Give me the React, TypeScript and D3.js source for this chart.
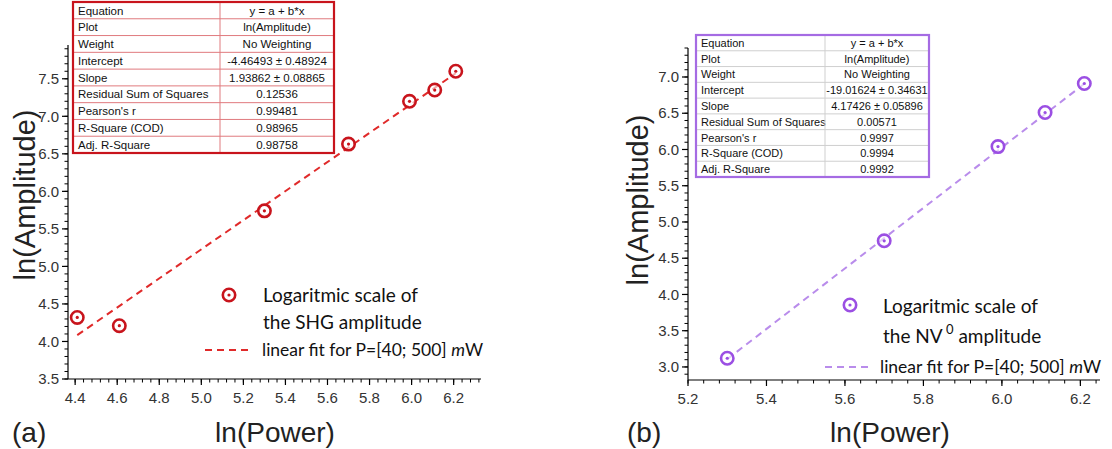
import React from "react";
import * as d3 from "d3";

// ---------- data ----------
const leftX = [4.41, 4.61, 5.3, 5.7, 5.99, 6.11, 6.21];
const leftY = [4.32, 4.21, 5.74, 6.63, 7.2, 7.35, 7.6];
const rightX = [5.3, 5.7, 5.99, 6.11, 6.21];
const rightY = [3.12, 4.74, 6.04, 6.51, 6.91];

const leftFitA = -4.46493;
const leftFitB = 1.93862;
const rightFitA = -19.01624;
const rightFitB = 4.17426;

const leftXTicks = [4.4, 4.6, 4.8, 5.0, 5.2, 5.4, 5.6, 5.8, 6.0, 6.2];
const leftYTicks = [3.5, 4.0, 4.5, 5.0, 5.5, 6.0, 6.5, 7.0, 7.5];
const rightXTicks = [5.2, 5.4, 5.6, 5.8, 6.0, 6.2];
const rightYTicks = [3.0, 3.5, 4.0, 4.5, 5.0, 5.5, 6.0, 6.5, 7.0];

const tableLabels = [
  "Equation",
  "Plot",
  "Weight",
  "Intercept",
  "Slope",
  "Residual Sum of Squares",
  "Pearson's r",
  "R-Square (COD)",
  "Adj. R-Square",
];
const leftTableValues = [
  "y = a + b*x",
  "ln(Amplitude)",
  "No Weighting",
  "-4.46493 ± 0.48924",
  "1.93862 ± 0.08865",
  "0.12536",
  "0.99481",
  "0.98965",
  "0.98758",
];
const rightTableValues = [
  "y = a + b*x",
  "ln(Amplitude)",
  "No Weighting",
  "-19.01624 ± 0.34631",
  "4.17426 ± 0.05896",
  "0.00571",
  "0.9997",
  "0.9994",
  "0.9992",
];

// ---------- styling ----------
const RED = "#c8141c";
const RED_LINE = "#e02a2a";
const PURPLE = "#9b4fe3";
const PURPLE_LINE = "#b98ceb";
const TICK_FONT = "'Liberation Sans', Arial, sans-serif";
const LEGEND_FONT = "Lato, 'Open Sans', sans-serif";

function minorTicks(lo: number, hi: number, step: number) {
  const n0 = Math.ceil(lo / step - 1e-9);
  const n1 = Math.floor(hi / step + 1e-9);
  return d3.range(n0, n1 + 1).map((k) => +(k * step).toFixed(4));
}

function Marker({ cx, cy, color }: { cx: number; cy: number; color: string }) {
  return (
    <g>
      <circle cx={cx} cy={cy} r={6.2} fill="white" fillOpacity={0.6} stroke={color} strokeWidth={2.6} />
      <circle cx={cx} cy={cy} r={1.6} fill={color} />
    </g>
  );
}

type PanelProps = {
  xDomain: [number, number];
  yDomain: [number, number];
  xRange: [number, number];
  yRange: [number, number];
  xTicks: number[];
  yTicks: number[];
  xs: number[];
  ys: number[];
  fitA: number;
  fitB: number;
  color: string;
  lineColor: string;
};

function Panel(p: PanelProps) {
  const x = d3.scaleLinear().domain(p.xDomain).range(p.xRange);
  const y = d3.scaleLinear().domain(p.yDomain).range(p.yRange);
  const x0 = p.xRange[0];
  const y0 = p.yRange[0];
  const xMin = minorTicks(p.xDomain[0], p.xDomain[1], 0.04);
  const yMin = minorTicks(p.yDomain[0], p.yDomain[1], 0.1);
  const fx = d3.extent(p.xs) as [number, number];
  const line = d3
    .line<number>()
    .x((v) => x(v))
    .y((v) => y(p.fitA + p.fitB * v));
  return (
    <g>
      <path d={line(fx) || ""} stroke={p.lineColor} strokeWidth={2} strokeDasharray="7,5" fill="none" />
      <line x1={x0} x2={x0} y1={p.yRange[0]} y2={p.yRange[1]} stroke="#000" strokeWidth={1.2} />
      <line x1={p.xRange[0]} x2={p.xRange[1]} y1={y0} y2={y0} stroke="#000" strokeWidth={1.2} />
      {yMin.map((t) => (
        <line key={"ym" + t} x1={x0 - 3.5} x2={x0} y1={y(t)} y2={y(t)} stroke="#000" strokeWidth={1} />
      ))}
      {p.yTicks.map((t) => (
        <g key={"y" + t}>
          <line x1={x0 - 6} x2={x0} y1={y(t)} y2={y(t)} stroke="#000" strokeWidth={1.2} />
          <text x={x0 - 9} y={y(t)} dy="0.35em" textAnchor="end" fontSize={15} fontFamily={TICK_FONT} fill="#333">
            {t.toFixed(1)}
          </text>
        </g>
      ))}
      {xMin.map((t) => (
        <line key={"xm" + t} x1={x(t)} x2={x(t)} y1={y0} y2={y0 + 3.5} stroke="#000" strokeWidth={1} />
      ))}
      {p.xTicks.map((t) => (
        <g key={"x" + t}>
          <line x1={x(t)} x2={x(t)} y1={y0} y2={y0 + 6} stroke="#000" strokeWidth={1.2} />
          <text x={x(t)} y={y0 + 24} textAnchor="middle" fontSize={15} fontFamily={TICK_FONT} fill="#333">
            {t.toFixed(1)}
          </text>
        </g>
      ))}
      {p.xs.map((v, i) => (
        <Marker key={"p" + i} cx={x(v)} cy={y(p.ys[i])} color={p.color} />
      ))}
    </g>
  );
}

function Table({
  x0,
  x1,
  xDiv,
  y0,
  y1,
  values,
  border,
  inner,
  fontSize,
}: {
  x0: number;
  x1: number;
  xDiv: number;
  y0: number;
  y1: number;
  values: string[];
  border: string;
  inner: string;
  fontSize: number;
}) {
  const rows = d3.scaleBand<number>().domain(d3.range(tableLabels.length)).range([y0, y1]);
  const h = rows.bandwidth();
  return (
    <g>
      <rect x={x0} y={y0} width={x1 - x0} height={y1 - y0} fill="white" />
      {tableLabels.map((lab, i) => (
        <g key={lab}>
          {i > 0 && <line x1={x0} x2={x1} y1={rows(i)} y2={rows(i)} stroke={inner} strokeWidth={1} />}
          <text x={x0 + 5} y={(rows(i) as number) + h / 2} dy="0.36em" fontSize={fontSize} fontFamily={TICK_FONT} fill="#111">
            {lab}
          </text>
          <text
            x={(xDiv + x1) / 2}
            y={(rows(i) as number) + h / 2}
            dy="0.36em"
            textAnchor="middle"
            fontSize={fontSize}
            fontFamily={TICK_FONT}
            fill="#111"
          >
            {values[i]}
          </text>
        </g>
      ))}
      <line x1={xDiv} x2={xDiv} y1={y0} y2={y1} stroke={inner} strokeWidth={1} />
      <rect x={x0} y={y0} width={x1 - x0} height={y1 - y0} fill="none" stroke={border} strokeWidth={2.2} />
    </g>
  );
}

export default function App() {
  return (
    <svg
      width={1112}
      height={449}
      style={{ position: "absolute", left: 0, top: 0, background: "white" }}
      xmlns="http://www.w3.org/2000/svg"
    >
      <rect width={1112} height={449} fill="white" />
      {/* ---- panel (a) ---- */}
      <Panel
        xDomain={[4.366, 6.33]}
        yDomain={[3.5, 7.95]}
        xRange={[68, 481]}
        yRange={[379, 45]}
        xTicks={leftXTicks}
        yTicks={leftYTicks}
        xs={leftX}
        ys={leftY}
        fitA={leftFitA}
        fitB={leftFitB}
        color={RED}
        lineColor={RED_LINE}
      />
      <Table x0={73} x1={334} xDiv={220} y0={2} y1={153} values={leftTableValues} border={RED} inner="#e07a7e" fontSize={11.5} />
      <g fontFamily={LEGEND_FONT} fontSize={19} fill="#111">
        <Marker cx={229} cy={295} color={RED} />
        <text x={263} y={302}>Logaritmic scale of</text>
        <text x={263} y={329}>the SHG amplitude</text>
        <line x1={205} x2={253} y1={350} y2={350} stroke={RED_LINE} strokeWidth={2} strokeDasharray="7,5" />
        <text x={262} y={356} fontSize={17.5}>
          linear fit for P=[40; 500] <tspan fontStyle="italic">m</tspan>W
        </text>
      </g>
      <text x={25} y={195} transform="rotate(-90 25 195)" textAnchor="middle" dy="0.35em" fontSize={29} fontFamily={TICK_FONT} fill="#222">
        ln(Amplitude)
      </text>
      <text x={275} y={442} textAnchor="middle" fontSize={28} fontFamily={TICK_FONT} fill="#222">
        ln(Power)
      </text>
      <text x={12} y={442} fontSize={28} fontFamily={TICK_FONT} fill="#222">
        (a)
      </text>

      {/* ---- panel (b) ---- */}
      <Panel
        xDomain={[5.2, 6.25]}
        yDomain={[2.82, 7.4]}
        xRange={[688, 1100]}
        yRange={[380, 48]}
        xTicks={rightXTicks}
        yTicks={rightYTicks}
        xs={rightX}
        ys={rightY}
        fitA={rightFitA}
        fitB={rightFitB}
        color={PURPLE}
        lineColor={PURPLE_LINE}
      />
      <Table x0={696} x1={929} xDiv={825} y0={35} y1={177} values={rightTableValues} border="#a56be3" inner="#cfcfcf" fontSize={11} />
      <g fontFamily={LEGEND_FONT} fontSize={19} fill="#111">
        <Marker cx={850} cy={305} color={PURPLE} />
        <text x={883} y={313}>Logaritmic scale of</text>
        <text x={883} y={343}>
          the NV<tspan dy={-9} fontSize={13}> 0</tspan>
          <tspan dy={9}> amplitude</tspan>
        </text>
        <line x1={825} x2={873} y1={367} y2={367} stroke={PURPLE_LINE} strokeWidth={2} strokeDasharray="7,5" />
        <text x={880} y={373} fontSize={17.5}>
          linear fit for P=[40; 500] <tspan fontStyle="italic">m</tspan>W
        </text>
      </g>
      <text x={638} y={200} transform="rotate(-90 638 200)" textAnchor="middle" dy="0.35em" fontSize={29} fontFamily={TICK_FONT} fill="#222">
        ln(Amplitude)
      </text>
      <text x={890} y={442} textAnchor="middle" fontSize={28} fontFamily={TICK_FONT} fill="#222">
        ln(Power)
      </text>
      <text x={627} y={442} fontSize={28} fontFamily={TICK_FONT} fill="#222">
        (b)
      </text>
    </svg>
  );
}
